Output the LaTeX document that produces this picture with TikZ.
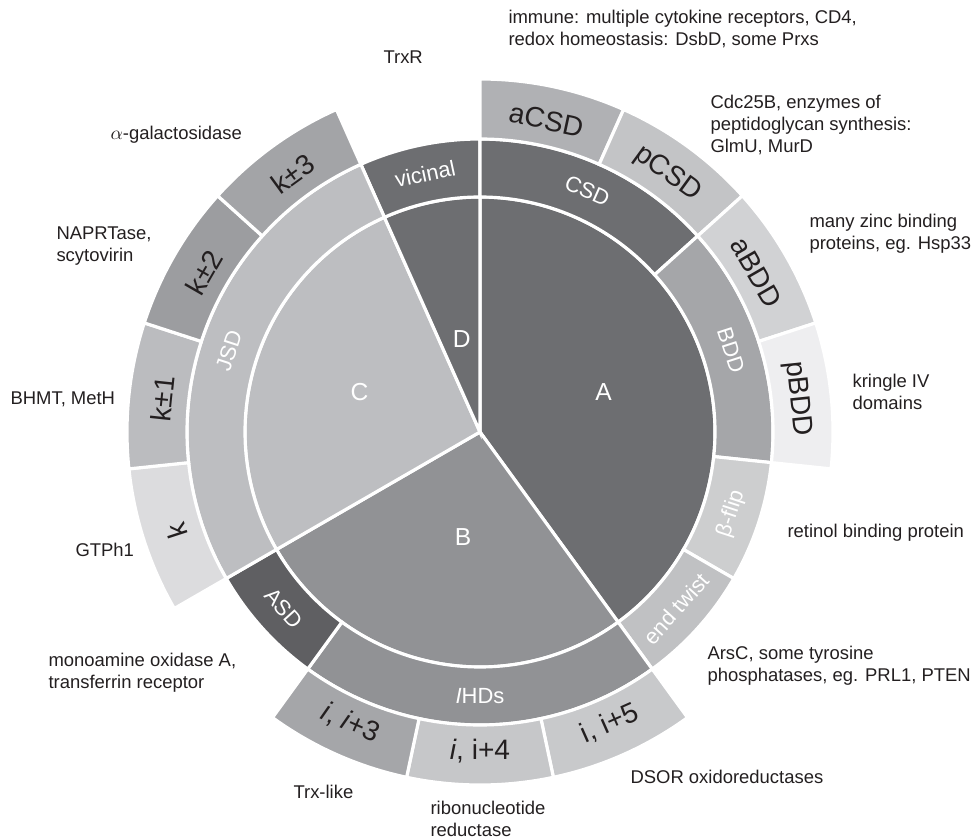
\documentclass[tikz,border=0pt]{standalone}
\usepackage{fontspec}
\setmainfont{Liberation Sans}

\definecolor{ink}{HTML}{231F20}
\definecolor{gDark}{HTML}{6D6E71}
\definecolor{gDarker}{HTML}{5F5F62}
\definecolor{gMid}{HTML}{919295}
\definecolor{gLight}{HTML}{BDBEC1}
\definecolor{gBDD}{HTML}{A5A6A9}
\definecolor{gFlip}{HTML}{CDCECF}
\definecolor{gTwist}{HTML}{C0C1C3}
\definecolor{gaCSD}{HTML}{B0B1B4}
\definecolor{gpCSD}{HTML}{C3C4C6}
\definecolor{gaBDD}{HTML}{D1D2D4}
\definecolor{gpBDD}{HTML}{EEEEF0}
\definecolor{gKiii}{HTML}{A3A4A7}
\definecolor{gKii}{HTML}{9C9DA0}
\definecolor{gKi}{HTML}{BBBCBF}
\definecolor{gK}{HTML}{DCDCDE}
\definecolor{gIiii}{HTML}{A5A6A9}
\definecolor{gIiv}{HTML}{C6C7C9}
\definecolor{gIv}{HTML}{C8C9CB}

% sector of a ring: colour, start angle, end angle, inner radius, outer radius
\newcommand{\ringseg}[5]{%
  \filldraw[fill=#1, draw=white, line width=1.8pt]
    (#2:#4) arc[start angle=#2, end angle=#3, radius=#4]
    -- (#3:#5) arc[start angle=#3, end angle=#2, radius=#5] -- cycle;}
% slice of the inner pie: colour, start angle, end angle, radius
\newcommand{\pieseg}[4]{%
  \filldraw[fill=#1, draw=white, line width=1.8pt]
    (0,0) -- (#2:#4) arc[start angle=#2, end angle=#3, radius=#4] -- cycle;}

\begin{document}
\begin{tikzpicture}[line width=0.6pt,
  every node/.style={inner sep=0pt},
  inlbl/.style={text=white, font=\fontsize{14}{16}\selectfont},
  midlbl/.style={text=white, font=\fontsize{12.5}{14}\selectfont},
  outlbl/.style={text=ink, font=\fontsize{16}{18}\selectfont},
  note/.style={anchor=west, align=left, text=ink, font=\fontsize{10.5}{12.5}\selectfont}]
  \useasboundingbox (-9.6,-8.14) rectangle (9.84,8.64);
  % Inner pie
  \pieseg{gDark}{-54}{90}{4.7}
  \pieseg{gMid}{210}{306}{4.7}
  \pieseg{gLight}{114}{210}{4.7}
  \pieseg{gDark}{90}{114}{4.7}
  \node[inlbl] (lblA) at (18:2.6) {A};
  \node[inlbl] (lblB) at (260.8:2.13) {B};
  \node[inlbl] (lblC) at (161.5:2.54) {C};
  \node[inlbl] (lblD) at (101:1.9) {D};
  % Middle ring
  \ringseg{gDark}{90}{114}{4.7}{5.86}
  \ringseg{gDark}{42}{90}{4.7}{5.86}
  \ringseg{gBDD}{-6}{42}{4.7}{5.86}
  \ringseg{gFlip}{-30}{-6}{4.7}{5.86}
  \ringseg{gTwist}{-54}{-30}{4.7}{5.86}
  \ringseg{gMid}{234}{306}{4.7}{5.86}
  \ringseg{gDarker}{210}{234}{4.7}{5.86}
  \ringseg{gLight}{114}{210}{4.7}{5.86}
  \node[midlbl, rotate=12] (lblVic) at (102:5.28) {vicinal};
  \node[midlbl, rotate=-24] (lblCSD) at (66:5.28) {CSD};
  \node[midlbl, rotate=-72] (lblBDD) at (18:5.28) {BDD};
  \node[midlbl, rotate=72] (lblFlip) at (342:5.28) {β-flip};
  \node[midlbl, rotate=48] (lblTwist) at (318:5.28) {end twist};
  \node[midlbl] (lblIHD) at (270:5.28) {{\itshape I}HDs};
  \node[midlbl, rotate=-48] (lblASD) at (222:5.28) {ASD};
  \node[midlbl, rotate=72] (lblJSD) at (162:5.28) {JSD};
  % Outer ring
  \ringseg{gaCSD}{66}{90}{5.86}{7.06}
  \ringseg{gpCSD}{42}{66}{5.86}{7.06}
  \ringseg{gaBDD}{18}{42}{5.86}{7.06}
  \ringseg{gpBDD}{-6}{18}{5.86}{7.06}
  \ringseg{gIv}{282}{306}{5.86}{7.06}
  \ringseg{gIiv}{258}{282}{5.86}{7.06}
  \ringseg{gIiii}{234}{258}{5.86}{7.06}
  \ringseg{gK}{186}{210}{5.86}{7.06}
  \ringseg{gKi}{162}{186}{5.86}{7.06}
  \ringseg{gKii}{138}{162}{5.86}{7.06}
  \ringseg{gKiii}{114}{138}{5.86}{7.06}
  \node[outlbl, rotate=-12] (lblaCSD) at (78:6.38) {aCSD};
  \node[outlbl, rotate=-36] (lblpCSD) at (54:6.38) {pCSD};
  \node[outlbl, rotate=-60] (lblaBDD) at (30:6.38) {aBDD};
  \node[outlbl, rotate=-84] (lblpBDD) at (6:6.38) {pBDD};
  \node[outlbl, rotate=24] (lblIv) at (294:6.38) {i, i+5};
  \node[outlbl] (lblIiv) at (270:6.38) {{\itshape i}, i+4};
  \node[outlbl, rotate=-24] (lblIiii) at (246:6.38) {{\itshape i}, {\itshape i}+3};
  \node[outlbl, rotate=108] (lblK) at (198:6.38) {k};
  \node[outlbl, rotate=84] (lblKi) at (174:6.38) {k±1};
  \node[outlbl, rotate=60] (lblKii) at (150:6.38) {k±2};
  \node[outlbl, rotate=36] (lblKiii) at (126:6.38) {k±3};
  % Examples of each class
  \node[note] (noteImm) at (0.56,8.06) {immune: multiple cytokine receptors, CD4,\\redox homeostasis: DsbD, some Prxs};
  \node[note] (noteTrxR) at (-1.94,7.5) {TrxR};
  \node[note] (noteCdc) at (4.6,6.14) {Cdc25B, enzymes of\\peptidoglycan synthesis:\\GlmU, MurD};
  \node[note] (noteZinc) at (6.58,3.96) {many zinc binding\\proteins, eg. Hsp33};
  \node[note] (noteKring) at (7.44,0.8) {kringle IV\\domains};
  \node[note] (noteRet) at (6.14,-2.02) {retinol binding protein};
  \node[note] (noteArsC) at (4.54,-4.68) {ArsC, some tyrosine\\phosphatases, eg. PRL1, PTEN};
  \node[note] (noteDSOR) at (3.0,-6.9) {DSOR oxidoreductases};
  \node[note] (noteRNR) at (-1.0,-7.74) {ribonucleotide\\reductase};
  \node[note] (noteTrx) at (-3.74,-7.2) {Trx-like};
  \node[note] (noteMAO) at (-8.64,-4.81) {monoamine oxidase A,\\transferrin receptor};
  \node[note] (noteGTP) at (-8.1,-2.36) {GTPh1};
  \node[note] (noteBHMT) at (-9.4,0.66) {BHMT, MetH};
  \node[note] (noteNAP) at (-8.48,3.72) {NAPRTase,\\scytovirin};
  \node[note] (noteGal) at (-7.4,5.94) {$\alpha$-galactosidase};
\end{tikzpicture}
\end{document}
